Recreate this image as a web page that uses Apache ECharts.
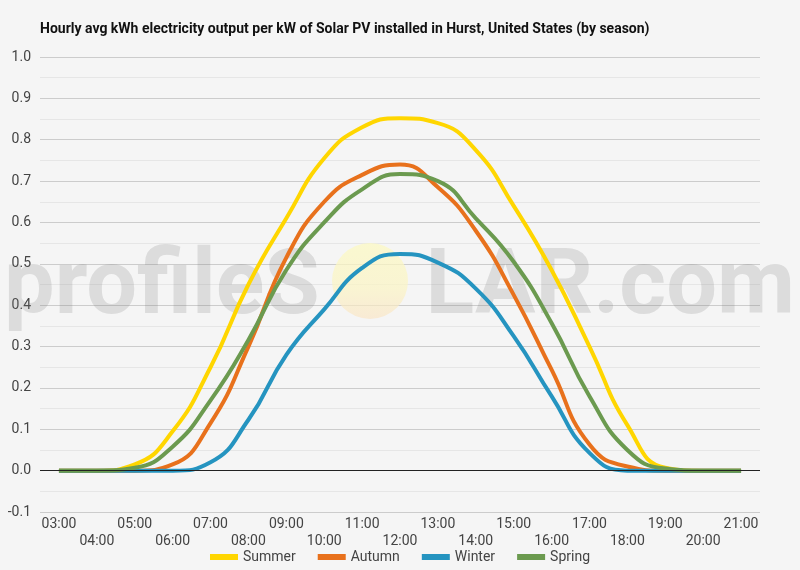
<!DOCTYPE html>
<html>
<head>
<meta charset="utf-8">
<title>Hourly avg kWh output - Hurst</title>
<script src="https://cdn.jsdelivr.net/npm/echarts@6/dist/echarts.min.js"></script>
<style>
  html, body { margin: 0; padding: 0; background: #f5f5f5; }
  #chart { width: 800px; height: 570px; }
</style>
</head>
<body>
<div id="chart"></div>
<script>
var hours = ['03:00', '04:00', '05:00', '06:00', '07:00', '08:00', '09:00', '10:00', '11:00', '12:00',
             '13:00', '14:00', '15:00', '16:00', '17:00', '18:00', '19:00', '20:00', '21:00'];
var summer = [0, 0, 0.015, 0.095, 0.25, 0.45, 0.61, 0.755, 0.83, 0.852, 0.84, 0.775, 0.64, 0.485, 0.30, 0.11, 0.007, 0, 0];
var autumn = [0, 0, 0, 0.015, 0.115, 0.30, 0.515, 0.65, 0.715, 0.74, 0.685, 0.58, 0.425, 0.244, 0.063, 0.01, 0, 0, 0];
var winter = [0, 0, 0, 0, 0.02, 0.123, 0.28, 0.39, 0.49, 0.524, 0.503, 0.44, 0.325, 0.18, 0.043, 0, 0, 0, 0];
var spring = [0, 0, 0.007, 0.058, 0.17, 0.316, 0.485, 0.60, 0.68, 0.717, 0.70, 0.61, 0.505, 0.357, 0.18, 0.05, 0.005, 0, 0];
var seasonNames = ['Summer', 'Autumn', 'Winter', 'Spring'];
var colors = ['#ffd600', '#e8711c', '#2594c0', '#6b9a4f'];

var chart = echarts.init(document.getElementById('chart'));

function line(name, data, i) {
  var s = {
    name: name,
    type: 'line',
    data: data,
    smooth: true,
    symbol: 'none',
    lineStyle: { width: 4, color: colors[i] },
    itemStyle: { color: colors[i] },
    z: 3
  };
  if (i === 0) {
    // black zero line
    s.markLine = {
      silent: true,
      symbol: 'none',
      label: { show: false },
      lineStyle: { color: '#222', width: 1, type: 'solid' },
      data: [{ yAxis: 0 }]
    };
  }
  return s;
}

chart.setOption({
  backgroundColor: '#f5f5f5',
  animation: false,
  textStyle: { fontFamily: 'Roboto, sans-serif' },
  color: colors,
  title: {
    text: 'Hourly avg kWh electricity output per kW of Solar PV installed in Hurst, United States (by season)',
    left: 35,
    top: 17,
    textStyle: { fontSize: 14, fontWeight: 'bold', color: '#111', fontFamily: 'Roboto, sans-serif' }
  },
  graphic: [
    {
      type: 'circle',
      z: 1,
      shape: { cx: 370, cy: 281, r: 38 },
      style: {
        fill: {
          type: 'linear', x: 0, y: 0, x2: 0, y2: 1,
          colorStops: [
            { offset: 0, color: 'rgba(252,249,195,0.75)' },
            { offset: 0.6, color: 'rgba(251,244,195,0.7)' },
            { offset: 1, color: 'rgba(250,228,195,0.65)' }
          ]
        }
      }
    },
    {
      type: 'text',
      z: 1,
      left: 4,
      top: 245,
      style: {
        text: 'profileS',
        font: 'bold 90px Roboto, sans-serif',
        fill: 'rgba(120,120,120,0.2)'
      }
    },
    {
      type: 'text',
      z: 1,
      right: 5,
      top: 245,
      style: {
        text: 'LAR.com',
        font: 'bold 90px Roboto, sans-serif',
        fill: 'rgba(120,120,120,0.2)'
      }
    }
  ],
  legend: {
    bottom: 0,
    left: 'center',
    padding: [0, 5, 6, 5],
    icon: 'rect',
    itemWidth: 28,
    itemHeight: 6,
    itemGap: 22,
    textStyle: { fontSize: 14, color: '#444' },
    data: seasonNames
  },
  grid: { left: 40, right: 40, top: 57, bottom: 58 },
  xAxis: {
    type: 'category',
    data: hours,
    boundaryGap: true,
    axisLine: { show: false, onZero: false },
    axisTick: { show: false },
    axisLabel: {
      interval: 0,
      fontSize: 14,
      color: '#444',
      lineHeight: 17,
      margin: 4,
      formatter: function(v, i) { return i % 2 ? '\n' + v : v; }
    },
    splitLine: { show: false }
  },
  yAxis: {
    type: 'value',
    min: -0.1,
    max: 1.0,
    interval: 0.1,
    axisLine: { show: false },
    axisTick: { show: false },
    axisLabel: {
      fontSize: 14,
      color: '#444',
      margin: 9,
      formatter: function(v) { return v.toFixed(1); }
    },
    splitLine: { lineStyle: { color: '#cccccc', width: 1 } },
    minorTick: { show: false, splitNumber: 2 },
    minorSplitLine: { show: true, lineStyle: { color: '#e6e6e6', width: 1 } }
  },
  series: [
    line('Summer', summer, 0),
    line('Autumn', autumn, 1),
    line('Winter', winter, 2),
    line('Spring', spring, 3)
  ]
});
</script>
</body>
</html>
